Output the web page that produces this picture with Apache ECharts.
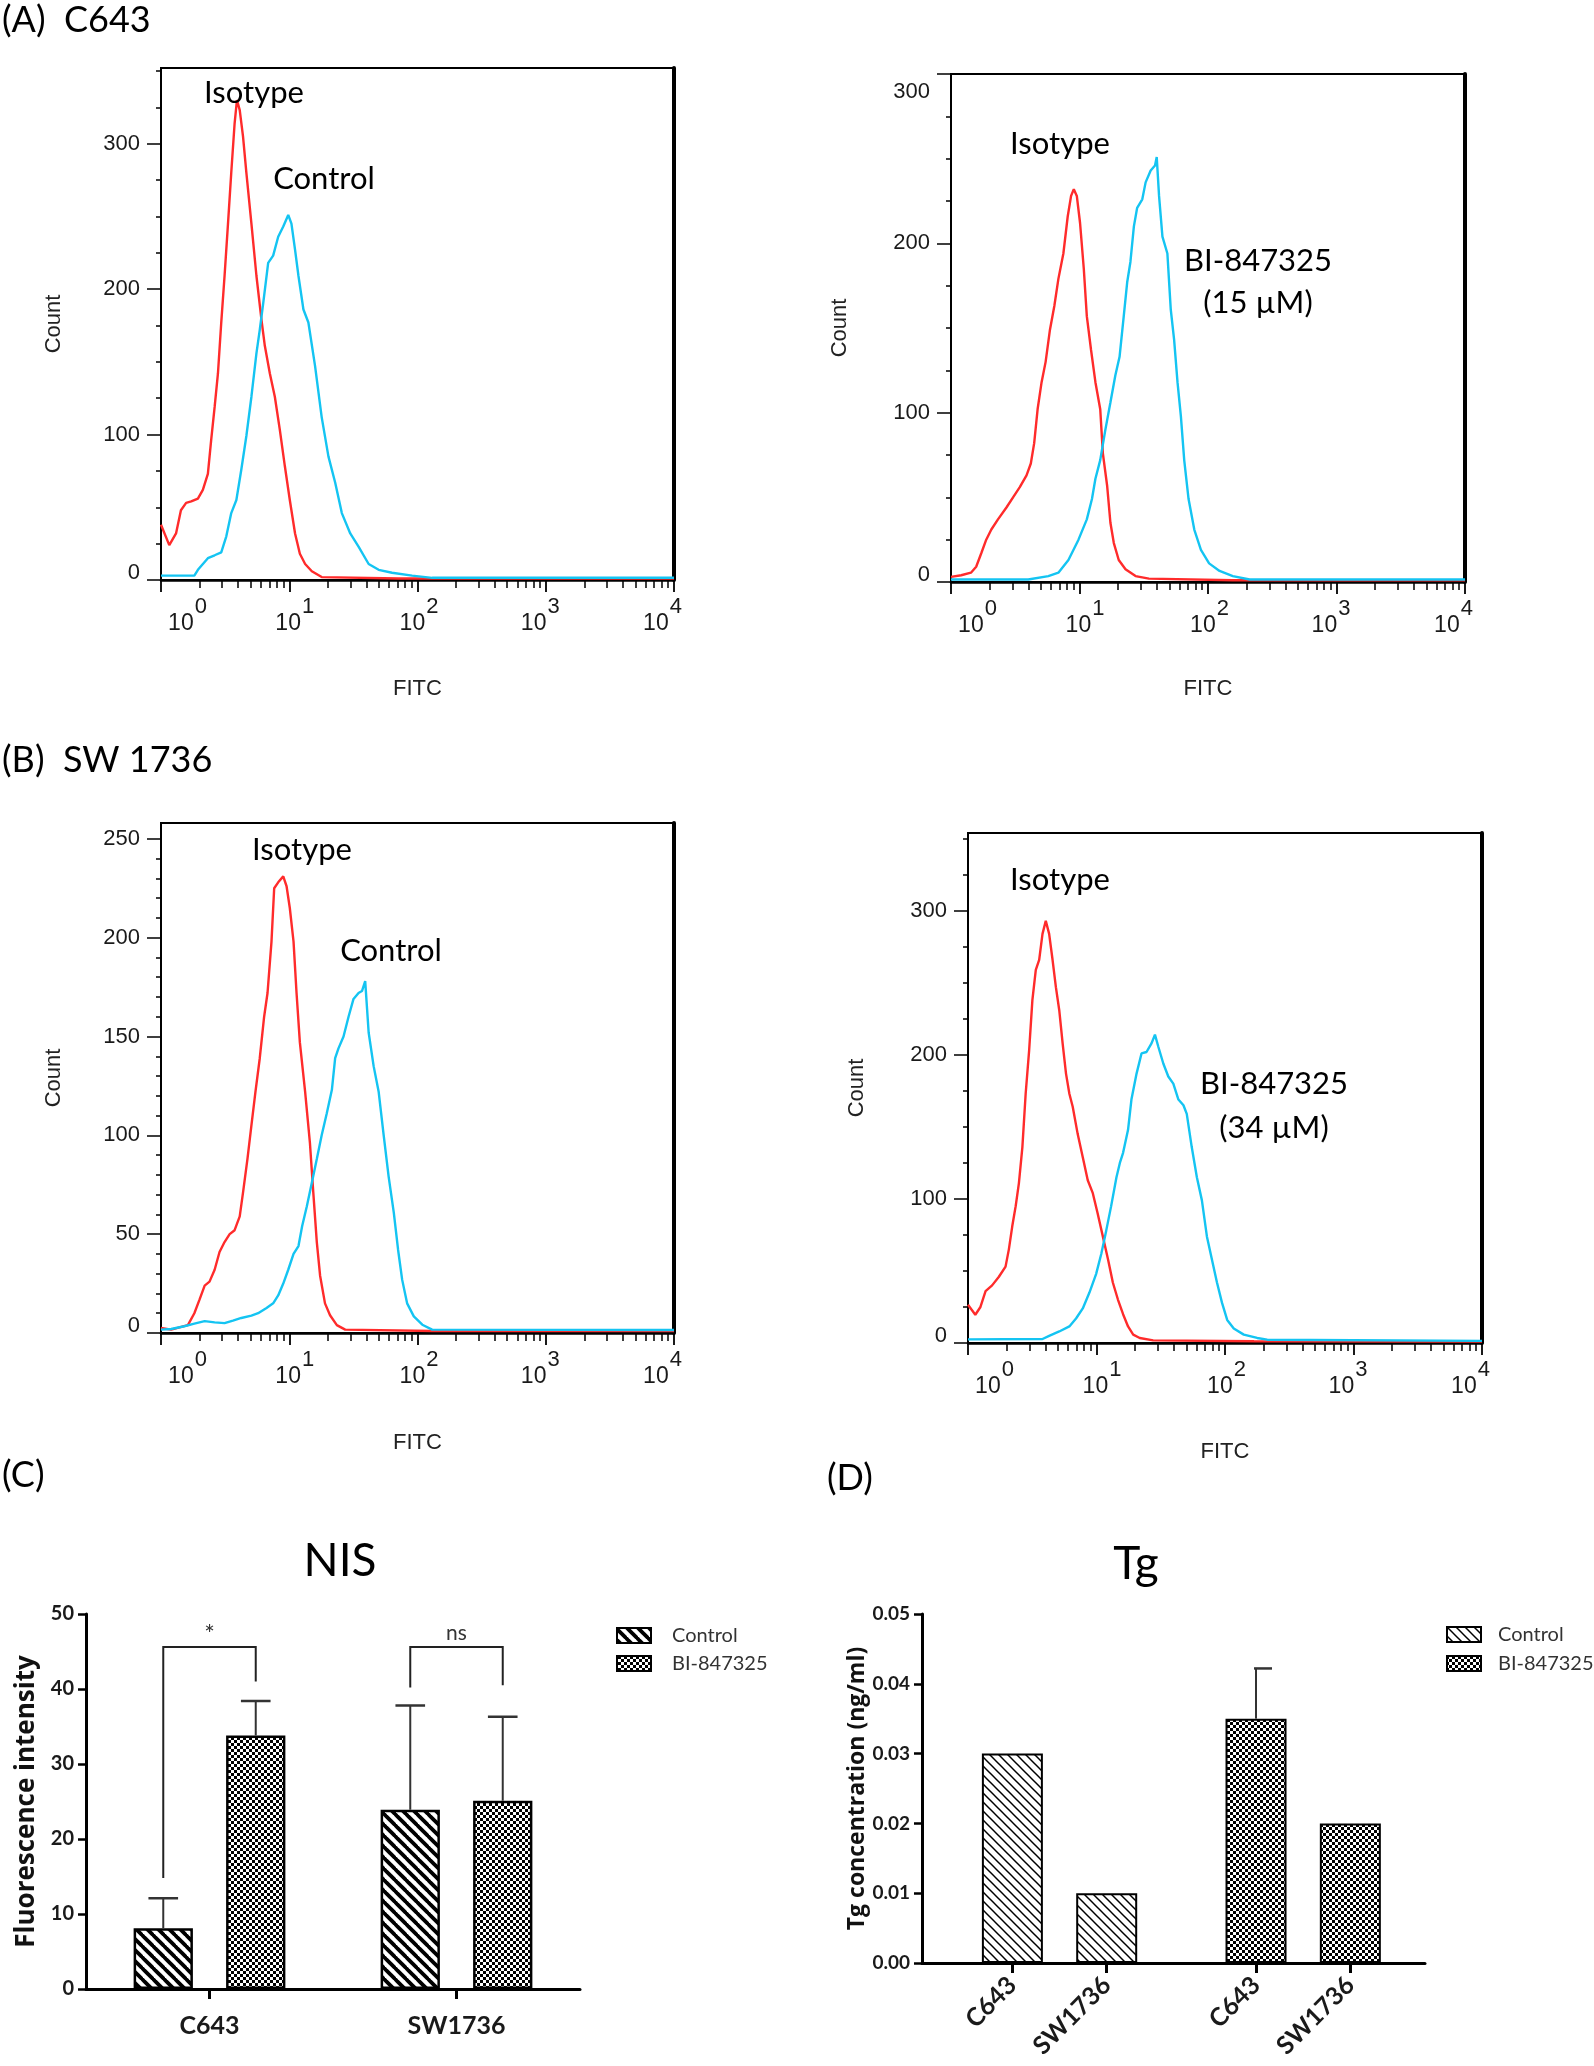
<!DOCTYPE html>
<html><head><meta charset="utf-8">
<script src="https://cdn.jsdelivr.net/npm/echarts@6/dist/echarts.min.js"></script>
<style>html,body{margin:0;padding:0;background:#fff}#c{width:1594px;height:2066px}</style>
</head><body><div id="c"></div>
<script>
// ---------------- DATA ----------------
// Flow cytometry histograms: [FITC intensity, count]
const aLeftIsotype = [[1,38],[1.16,24],[1.31,32],[1.43,48],[1.57,53],[1.72,54],[1.94,56],[2.12,62],[2.32,73],[2.46,96],[2.62,119],[2.78,142],[2.95,177],[3.13,209],[3.33,245],[3.53,280],[3.75,314],[3.91,330],[4.11,323],[4.36,305],[4.63,280],[5.07,245],[5.55,209],[6.07,179],[6.45,161],[7.06,142],[7.72,126],[8.45,103],[9.25,78],[10.1,55],[11.1,32],[12.1,18],[13.3,11],[15.0,6],[17.9,2],[71.4,1],[10000,1]];
const aLeftControl = [[1,3],[1.82,3],[1.94,7],[2.32,15],[2.62,17],[2.95,19],[3.23,30],[3.53,46],[3.87,55],[4.23,76],[4.63,99],[5.07,126],[5.55,156],[5.89,172],[6.26,190],[6.85,218],[7.49,223],[8.2,236],[8.98,243],[9.82,251],[10.4,245],[11.1,227],[11.8,209],[12.9,186],[14.1,177],[15.9,147],[17.9,112],[20.2,85],[22.8,67],[25.7,46],[29.9,32],[34.7,23],[41.6,11],[49.8,7],[63.3,5],[90.8,3],[130,1.5],[10000,1.5]];
const aRightIsotype = [[1,3],[1.2,4],[1.43,5.5],[1.57,9],[1.72,17],[1.88,25],[2.06,31],[2.32,37],[2.7,44],[3.04,50],[3.43,56],[3.87,63],[4.18,70],[4.44,82],[4.72,102],[5.07,118],[5.45,130],[5.89,149],[6.37,163],[6.85,179],[7.49,194],[8.1,216],[8.6,228],[9.03,232],[9.53,228],[10.1,212],[10.8,185],[11.4,157],[12.3,137],[13.3,118],[14.5,102],[15.2,76],[16.4,57],[17.4,35],[18.5,23],[20.2,13],[22.8,7.5],[27.3,3.5],[34.7,2],[156,1],[10000,1]];
const aRightBI15 = [[1,1.5],[3.99,1.5],[5.72,3.5],[6.85,5.5],[8.2,13],[9.82,25],[11.4,37],[12.5,49],[13.3,61],[14.5,72],[15.9,90],[17.4,106],[19.0,122],[20.5,133],[22.1,157],[23.5,177],[24.9,189],[26.5,210],[28.1,221],[30.8,226],[32.7,236],[35.8,243],[38.7,246],[39.9,251],[41.6,228],[44.2,204],[48.3,194],[51.3,161],[54.5,143],[57.9,118],[61.5,98],[65.3,72],[70.6,49],[78.2,31],[88.1,19],[102,11],[123,6.5],[156,3.5],[211,1.5],[10000,1.5]];
const bLeftIsotype = [[1,2.5],[1.2,1.7],[1.62,4],[1.82,10],[2.0,17],[2.19,24],[2.39,26],[2.62,32],[2.86,41],[3.13,46],[3.43,50],[3.75,52],[4.11,59],[4.36,71],[4.72,88],[5.07,105],[5.45,122],[5.89,139],[6.37,160],[6.77,172],[7.27,198],[7.63,225],[8.2,228],[8.98,231],[9.53,226],[10.1,215],[10.8,198],[11.4,172],[12.1,147],[13.3,122],[14.5,96],[15.4,71],[16.4,46],[17.4,29],[19.0,15],[20.8,9],[23.5,4],[27.3,1.7],[130,1],[10000,1]];
const bLeftControl = [[1,1.7],[1.2,2],[1.52,3.4],[1.82,4.7],[2.19,6],[2.62,5.4],[3.13,5],[3.64,6.3],[4.23,7.6],[5.07,8.8],[5.72,10],[6.65,12.7],[7.49,15],[8.2,19],[8.98,25],[9.82,32],[10.8,40],[11.8,44],[12.6,54],[13.7,64],[15.0,76],[16.4,88],[17.9,100],[19.6,111],[21.5,123],[22.8,139],[24.2,144],[26.5,150],[29.0,160],[31.7,169],[34.7,172],[36.9,173],[39.1,178],[41.6,152],[45.5,135],[49.8,122],[54.5,100],[59.6,79],[65.3,61],[70.6,42],[75.9,27],[83.0,15],[93.6,8.4],[109,4.2],[130,1.7],[10000,1.5]];
const bRightIsotype = [[1,26.5],[1.14,19.6],[1.25,25],[1.37,36],[1.54,40],[1.74,46],[1.96,53],[2.08,65],[2.21,81],[2.35,95],[2.49,111],[2.65,136],[2.81,173],[2.99,203],[3.17,238],[3.37,259],[3.58,266],[3.8,284],[4.03,293],[4.28,284],[4.55,266],[4.83,247],[5.13,231],[5.45,208],[5.79,187],[6.15,173],[6.53,164],[7.14,145],[7.82,129],[8.55,113],[9.36,104],[10.2,90],[11.2,74],[12.3,58],[13.4,42],[14.7,30],[16.1,20],[17.6,11.5],[19.3,5.8],[21.7,3.5],[27.6,1.8],[168,1.2],[10000,1]];
const bRightBI34 = [[1,2.5],[3.8,2.8],[4.28,5],[5.13,8],[6.15,11.5],[6.93,17],[7.82,24],[8.81,35],[9.94,48],[10.9,62],[11.9,78],[13.0,95],[14.3,115],[15.2,125],[16.1,132],[17.6,148],[18.7,169],[20.5,187],[22.4,201],[24.5,202],[26.8,208],[28.5,214],[30.2,206],[33.1,194],[36.2,185],[39.6,180],[43.4,169],[47.5,165],[50.4,159],[55.1,136],[60.4,115],[66.1,99],[72.3,74],[79.1,58],[86.6,42],[94.7,28],[104,16],[117,10],[140,5.8],[178,3.5],[213,2.3],[10000,1.5]];

// Axis tick labels
const fitcDecades = [1, 10, 100, 1000, 10000];
const countTicks100 = [0, 100, 200, 300];
const countTicks50 = [0, 50, 100, 150, 200, 250];

// (C) NIS fluorescence intensity
const nisCategories = ['C643', 'SW1736'];
const nisControl = [8.1, 23.9];
const nisControlSD = [4.0, 13.9];
const nisBI = [33.8, 25.1];
const nisBISD = [4.6, 11.2];
const nisSig = ['*', 'ns'];
const nisBracketLeftEnd = [14.8, 40.2];
const nisBracketRightEnd = [41.0, 40.5];
const nisBracketTop = [45.6, 45.6];

// (D) Tg concentration
const tgCategories = ['C643', 'SW1736', 'C643', 'SW1736'];
const tgControl = [0.030, 0.010];
const tgBI = [0.035, 0.020];
const tgBISD = [0.0072, 0];

// ---------------- STYLE / LAYOUT ----------------
const FONT_S = 'Lato, "Open Sans", sans-serif';
const FONT_B = '"Open Sans", Lato, sans-serif';
const FONT_P = '"Liberation Sans", Arial, sans-serif';
const RED = '#ff2b2b', CYAN = '#14c4f2';

function makeStripe(period, lw) {
  const c = document.createElement('canvas'); c.width = period; c.height = period;
  const g = c.getContext('2d'); g.fillStyle = '#fff'; g.fillRect(0, 0, period, period);
  g.strokeStyle = '#000'; g.lineWidth = lw;
  for (const o of [-period, 0, period]) { g.beginPath(); g.moveTo(o - 1, -1); g.lineTo(o + period + 1, period + 1); g.stroke(); }
  return c;
}
function makeChecker(cell) {
  const c = document.createElement('canvas'); c.width = c.height = cell * 2;
  const g = c.getContext('2d'); g.fillStyle = '#fff'; g.fillRect(0, 0, cell * 2, cell * 2);
  g.fillStyle = '#000'; g.fillRect(0, 0, cell, cell); g.fillRect(cell, cell, cell, cell);
  return c;
}
const patThick = { image: makeStripe(11, 3.8), repeat: 'repeat' };
const patThin = { image: makeStripe(9, 1.5), repeat: 'repeat' };
const patCheck = { image: makeChecker(3), repeat: 'repeat' };

// decade labels "10^n" with superscript; small horizontal shifts like the original software
const decadeShift = [27, 6, 2, -6, -12];
const decadeRich = {
  b: { fontFamily: FONT_P, fontSize: 23, color: '#1a1a1a' },
  s: { fontFamily: FONT_P, fontSize: 22, color: '#1a1a1a', padding: [0, 0, 34, 1] }
};
decadeShift.forEach((d, e) => {
  decadeRich['l' + e] = { width: Math.max(1, 2 * d), fontSize: 4 };
  decadeRich['r' + e] = { width: Math.max(1, -2 * d), fontSize: 4 };
});
function decadeFormatter(v) {
  const e = Math.round(Math.log10(v));
  return '{l' + e + '| }{b|10}{s|' + e + '}{r' + e + '| }';
}
const minorLog = [];
for (let d = 0; d < 4; d++) for (let k = 2; k <= 9; k++) minorLog.push(d + Math.log10(k));

const HIST = [
  { grid: { left: 161, top: 68, width: 513, height: 512 }, yMax: 352, ticks: countTicks100, minorStep: 25, gapX: 98, gapY: 96, curves: [aLeftIsotype, aLeftControl] },
  { grid: { left: 951, top: 74, width: 514, height: 508 }, yMax: 300, ticks: countTicks100, minorStep: 25, gapX: 96, gapY: 100, topShift: true, curves: [aRightIsotype, aRightBI15] },
  { grid: { left: 161, top: 823, width: 513, height: 510 }, yMax: 258, ticks: countTicks50, minorStep: 10, gapX: 99, gapY: 96, curves: [bLeftIsotype, bLeftControl] },
  { grid: { left: 968, top: 833, width: 514, height: 510 }, yMax: 354, ticks: countTicks100, minorStep: 25, gapX: 98, gapY: 100, curves: [bRightIsotype, bRightBI34] }
];

const grids = [], xAxes = [], yAxes = [], series = [];
HIST.forEach((p, i) => {
  grids.push(Object.assign({ show: true, borderColor: '#000', borderWidth: 2, backgroundColor: 'transparent' }, p.grid));
  xAxes.push({
    type: 'log', logBase: 10, gridIndex: i, min: fitcDecades[0], max: fitcDecades[fitcDecades.length - 1], position: 'bottom',
    name: 'FITC', nameLocation: 'middle', nameGap: p.gapX,
    nameTextStyle: { fontFamily: FONT_P, fontSize: 22, color: '#222' },
    axisLine: { show: true, onZero: false, lineStyle: { color: '#000', width: 2.5 } },
    axisTick: { show: true, length: 12, lineStyle: { color: '#000', width: 1.8 } },
    axisLabel: { show: true, margin: 16, formatter: decadeFormatter, rich: decadeRich, showMinLabel: true, showMaxLabel: true, hideOverlap: false },
    splitLine: { show: false }, minorTick: { show: false }, minorSplitLine: { show: false }
  });
  xAxes.push({
    type: 'value', gridIndex: i, min: 0, max: 4, position: 'bottom',
    axisLine: { show: false }, axisLabel: { show: false }, splitLine: { show: false },
    axisTick: { show: true, length: 8, customValues: minorLog, lineStyle: { color: '#000', width: 1.5 } }
  });
  const minor = [];
  for (let v = p.minorStep; v < p.yMax; v += p.minorStep) if (p.ticks.indexOf(v) < 0) minor.push(v);
  const topV = p.ticks[p.ticks.length - 1];
  yAxes.push({
    type: 'value', gridIndex: i, min: 0, max: p.yMax, position: 'left',
    name: 'Count', nameLocation: 'middle', nameGap: p.gapY,
    nameTextStyle: { fontFamily: FONT_P, fontSize: 22, color: '#222' },
    axisLine: { show: true, onZero: false, lineStyle: { color: '#000', width: 2 } },
    axisTick: { show: true, length: 14, customValues: p.ticks, lineStyle: { color: '#000', width: 1.5 } },
    axisLabel: {
      customValues: p.ticks, margin: 21, fontFamily: FONT_P, fontSize: 22, color: '#1a1a1a',
      formatter: (v) => (v === 0 ? '{z|0}' : (p.topShift && v === topV ? '{t|' + v + '}' : String(v))),
      rich: {
        z: { fontFamily: FONT_P, fontSize: 22, color: '#1a1a1a', padding: [0, 0, 14, 0] },
        t: { fontFamily: FONT_P, fontSize: 22, color: '#1a1a1a', padding: [36, 0, 0, 0] }
      }
    },
    splitLine: { show: false }
  });
  yAxes.push({
    type: 'value', gridIndex: i, min: 0, max: p.yMax, position: 'left',
    axisLine: { show: false }, axisLabel: { show: false }, splitLine: { show: false },
    axisTick: { show: true, length: 5, customValues: minor, lineStyle: { color: '#000', width: 1.5 } }
  });
  yAxes.push({
    type: 'value', gridIndex: i, min: 0, max: p.yMax, position: 'right',
    axisLine: { show: true, lineStyle: { color: '#000', width: 4 } },
    axisTick: { show: false }, axisLabel: { show: false }, splitLine: { show: false }
  });
  p.curves.forEach((d, k) => {
    series.push({
      type: 'line', xAxisIndex: 2 * i, yAxisIndex: 3 * i, data: d, showSymbol: false, symbol: 'none',
      lineStyle: { color: k === 0 ? RED : CYAN, width: 2.4 }, z: 3 + k, silent: true
    });
  });
});

// ---- (C) NIS bar chart ----
const NIS_BW = 0.24, NIS_GAP = 0.56;
const gC = grids.length;
grids.push({ left: 86, top: 1614, width: 494, height: 375 });
const xC = xAxes.length, yC = yAxes.length;
xAxes.push({
  type: 'category', gridIndex: gC, data: nisCategories,
  axisLine: { show: true, lineStyle: { color: '#000', width: 3 } },
  axisTick: { show: true, alignWithLabel: true, length: 10, lineStyle: { color: '#000', width: 3 } },
  axisLabel: { fontFamily: FONT_S, fontWeight: 'bold', fontSize: 25, color: '#1a1a1a', margin: 24 }
});
yAxes.push({
  type: 'value', gridIndex: gC, min: 0, max: 50, interval: 10,
  name: 'Fluorescence intensity', nameLocation: 'middle', nameGap: 46,
  nameTextStyle: { fontFamily: FONT_B, fontWeight: 'bold', fontSize: 26, color: '#111' },
  axisLine: { show: true, lineStyle: { color: '#000', width: 3 } },
  axisTick: { show: true, length: 8, lineStyle: { color: '#000', width: 2.5 } },
  axisLabel: { fontFamily: FONT_S, fontWeight: 'bold', fontSize: 20, color: '#1a1a1a', margin: 12 },
  splitLine: { show: false }
});
series.push({ type: 'bar', name: 'Control', xAxisIndex: xC, yAxisIndex: yC, data: nisControl, barWidth: '24%', barGap: '56%',
  itemStyle: { color: patThick, borderColor: '#000', borderWidth: 2.5 }, silent: true });
series.push({ type: 'bar', name: 'BI-847325', xAxisIndex: xC, yAxisIndex: yC, data: nisBI, barWidth: '24%', barGap: '56%',
  itemStyle: { color: patCheck, borderColor: '#000', borderWidth: 2.5 }, silent: true });

function errRender(sign, relBarW, relGap, absW, capL, capR) {
  return function (params, api) {
    const i = api.value(0);
    const p0 = api.coord([i, api.value(1)]);
    const p1 = api.coord([i, api.value(2)]);
    const band = api.size([1, 0])[0];
    const bw = absW || band * relBarW;
    const x = p0[0] + sign * (bw + bw * relGap) / 2;
    const cl = capL != null ? capL : bw * 0.25, cr = capR != null ? capR : bw * 0.25;
    return { type: 'group', children: [
      { type: 'line', shape: { x1: x, y1: p0[1], x2: x, y2: p1[1] }, style: { stroke: '#333', lineWidth: 2 } },
      { type: 'line', shape: { x1: x - cl, y1: p1[1], x2: x + cr, y2: p1[1] }, style: { stroke: '#333', lineWidth: 2.5 } }
    ] };
  };
}
series.push({ type: 'custom', xAxisIndex: xC, yAxisIndex: yC, z: 5, silent: true,
  data: nisCategories.map((c, i) => [i, nisControl[i], nisControl[i] + nisControlSD[i]]),
  renderItem: errRender(-1, NIS_BW, NIS_GAP) });
series.push({ type: 'custom', xAxisIndex: xC, yAxisIndex: yC, z: 5, silent: true,
  data: nisCategories.map((c, i) => [i, nisBI[i], nisBI[i] + nisBISD[i]]),
  renderItem: errRender(1, NIS_BW, NIS_GAP) });
series.push({ type: 'custom', xAxisIndex: xC, yAxisIndex: yC, z: 5, silent: true,
  data: nisCategories.map((c, i) => [i, nisBracketLeftEnd[i], nisBracketRightEnd[i], nisBracketTop[i]]),
  renderItem: function (params, api) {
    const i = api.value(0);
    const band = api.size([1, 0])[0];
    const bw = band * NIS_BW, off = (bw + bw * NIS_GAP) / 2;
    const c = api.coord([i, api.value(3)]);
    const yl = api.coord([i, api.value(1)])[1], yr = api.coord([i, api.value(2)])[1];
    const xl = c[0] - off, xr = c[0] + off;
    const lab = nisSig[params.dataIndex];
    return { type: 'group', children: [
      { type: 'polyline', shape: { points: [[xl, yl], [xl, c[1]], [xr, c[1]], [xr, yr]] }, style: { stroke: '#222', lineWidth: 2, fill: 'none' } },
      { type: 'text', x: c[0], y: c[1] - (lab === '*' ? 0 : 3), style: { text: lab, font: (lab === '*' ? '25px ' : '21px ') + FONT_S, fill: '#333', align: 'center', verticalAlign: 'bottom' } }
    ] };
  } });

// ---- (D) Tg bar chart ----
const TG_SLOTS = 64, TG_POS = [11, 23, 42, 54];
const tgAxisData = Array.from({ length: TG_SLOTS }, () => '');
TG_POS.forEach((p, k) => { tgAxisData[p] = tgCategories[k]; });
const tgCtrlSlots = Array.from({ length: TG_SLOTS }, () => '-');
const tgBISlots = Array.from({ length: TG_SLOTS }, () => '-');
tgControl.forEach((v, k) => { tgCtrlSlots[TG_POS[k]] = v; });
tgBI.forEach((v, k) => { tgBISlots[TG_POS[k + 2]] = v; });
const gD = grids.length;
grids.push({ left: 922, top: 1614, width: 503, height: 349 });
const xD = xAxes.length, yD = yAxes.length;
xAxes.push({
  type: 'category', gridIndex: gD, data: tgAxisData,
  axisLine: { show: true, lineStyle: { color: '#000', width: 3 } },
  axisTick: { show: true, alignWithLabel: true, interval: (idx) => TG_POS.indexOf(idx) >= 0, length: 10, lineStyle: { color: '#000', width: 3 } },
  axisLabel: { interval: 0, rotate: 45, fontFamily: FONT_S, fontWeight: 'bold', fontSize: 25, color: '#1a1a1a', margin: 18 }
});
yAxes.push({
  type: 'value', gridIndex: gD, min: 0, max: 0.05, interval: 0.01,
  name: 'Tg concentration (ng/ml)', nameLocation: 'middle', nameGap: 50,
  nameTextStyle: { fontFamily: FONT_B, fontWeight: 'bold', fontSize: 23, color: '#111' },
  axisLine: { show: true, lineStyle: { color: '#000', width: 3 } },
  axisTick: { show: true, length: 8, lineStyle: { color: '#000', width: 2.5 } },
  axisLabel: { fontFamily: FONT_S, fontWeight: 'bold', fontSize: 19, color: '#1a1a1a', margin: 12, formatter: (v) => v.toFixed(2) },
  splitLine: { show: false }
});
series.push({ type: 'bar', name: 'Control', xAxisIndex: xD, yAxisIndex: yD, data: tgCtrlSlots, barWidth: 61, barGap: '-100%',
  itemStyle: { color: patThin, borderColor: '#000', borderWidth: 2 }, silent: true });
series.push({ type: 'bar', name: 'BI-847325', xAxisIndex: xD, yAxisIndex: yD, data: tgBISlots, barWidth: 61, barGap: '-100%',
  itemStyle: { color: patCheck, borderColor: '#000', borderWidth: 2 }, silent: true });
series.push({ type: 'custom', xAxisIndex: xD, yAxisIndex: yD, z: 5, silent: true,
  data: tgBI.map((v, k) => [TG_POS[k + 2], v, v + tgBISD[k]]).filter((d, k) => tgBISD[k] > 0),
  renderItem: errRender(0, 0, 0, 61, 2, 16) });

// ---------------- TEXT / LEGENDS ----------------
function txt(x, y, text, font, align, fill) {
  return { type: 'text', x: x, y: y, silent: true, z: 100,
    style: { text: text, font: font, fill: fill || '#000', align: align || 'center', verticalAlign: 'middle' } };
}
const F_LAB = '31px ' + FONT_S;
const graphics = [
  txt(2, 20, '(A)  C643', '36px ' + FONT_S, 'left'),
  txt(2, 760, '(B)  SW 1736', '36px ' + FONT_S, 'left'),
  txt(2, 1475, '(C)', '36px ' + FONT_S, 'left'),
  txt(827, 1478, '(D)', '36px ' + FONT_S, 'left'),
  txt(254, 93, 'Isotype', F_LAB), txt(324, 179, 'Control', F_LAB),
  txt(1060, 144, 'Isotype', F_LAB), txt(1258, 261, 'BI-847325', F_LAB), txt(1258, 303, '(15 µM)', F_LAB),
  txt(302, 850, 'Isotype', F_LAB), txt(391, 951, 'Control', F_LAB),
  txt(1060, 880, 'Isotype', F_LAB), txt(1274, 1084, 'BI-847325', F_LAB), txt(1274, 1128, '(34 µM)', F_LAB),
  txt(340, 1561, 'NIS', '46px ' + FONT_S), txt(1136, 1564, 'Tg', '46px ' + FONT_S)
];
function legendItem(x, y, pat, label, tx) {
  graphics.push({ type: 'rect', silent: true, z: 100, shape: { x: x, y: y, width: 34, height: 15 }, style: { fill: pat, stroke: '#000', lineWidth: 2 } });
  graphics.push(txt(tx, y + 8, label, '20px ' + FONT_S, 'left', '#333'));
}
legendItem(617, 1628, patThick, 'Control', 672);
legendItem(617, 1656, patCheck, 'BI-847325', 672);
legendItem(1447, 1627, patThin, 'Control', 1498);
legendItem(1447, 1656, patCheck, 'BI-847325', 1498);

const chart = echarts.init(document.getElementById('c'), null, { renderer: 'canvas', width: 1594, height: 2066 });
chart.setOption({
  backgroundColor: '#fff', animation: false,
  grid: grids, xAxis: xAxes, yAxis: yAxes, series: series, graphic: graphics
});
</script></body></html>
